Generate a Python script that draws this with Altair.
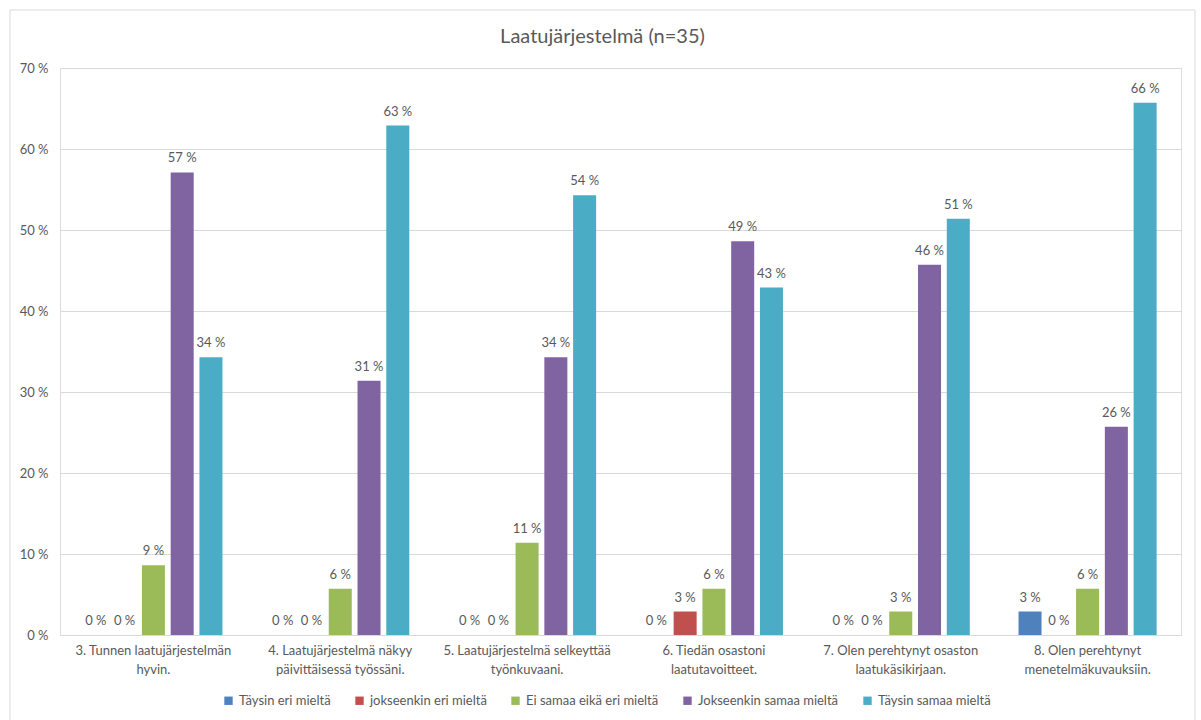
import altair as alt
import pandas as pd

categories = [
    "3. Tunnen laatujärjestelmän|hyvin.",
    "4. Laatujärjestelmä näkyy|päivittäisessä työssäni.",
    "5. Laatujärjestelmä selkeyttää|työnkuvaani.",
    "6. Tiedän osastoni|laatutavoitteet.",
    "7. Olen perehtynyt osaston|laatukäsikirjaan.",
    "8. Olen perehtynyt|menetelmäkuvauksiin.",
]
series = [
    "Täysin eri mieltä",
    "jokseenkin eri mieltä",
    "Ei samaa eikä eri mieltä",
    "Jokseenkin samaa mieltä",
    "Täysin samaa mieltä",
]
colors = ["#4F81BD", "#C0504D", "#9BBB59", "#8064A2", "#4BACC6"]

taysin_eri = [0.0, 0.0, 0.0, 0.0, 0.0, 2.9]
jokseenkin_eri = [0.0, 0.0, 0.0, 2.9, 0.0, 0.0]
ei_samaa_eika_eri = [8.6, 5.7, 11.4, 5.7, 2.9, 5.7]
jokseenkin_samaa = [57.1, 31.4, 34.3, 48.6, 45.7, 25.7]
taysin_samaa = [34.3, 62.9, 54.3, 42.9, 51.4, 65.7]

values = [taysin_eri, jokseenkin_eri, ei_samaa_eika_eri, jokseenkin_samaa, taysin_samaa]

rows = []
for s, vals in zip(series, values):
    for c, v in zip(categories, vals):
        rows.append({"category": c, "series": s, "value": v, "label": f"{round(v)} %"})
df = pd.DataFrame(rows)

FONT = "Lato"
GREY = "#595959"

base = alt.Chart(df).encode(
    x=alt.X(
        "category:N",
        sort=categories,
        scale=alt.Scale(paddingInner=0.23, paddingOuter=0.115),
        axis=alt.Axis(
            title=None,
            labelAngle=0,
            labelExpr="split(datum.label, '|')",
            labelFontSize=13,
            labelColor=GREY,
            labelFont=FONT,
            labelPadding=9,
            labelLineHeight=19,
            ticks=False,
            domainColor="#D9D9D9",
            domainWidth=1,
            labelLimit=300,
        ),
    ),
    xOffset=alt.XOffset(
        "series:N", sort=series, scale=alt.Scale(paddingInner=0.2, paddingOuter=0.1)
    ),
    y=alt.Y(
        "value:Q",
        scale=alt.Scale(domain=[0, 70], nice=False),
        axis=alt.Axis(
            title=None,
            values=[0, 10, 20, 30, 40, 50, 60, 70],
            labelExpr="datum.value + ' %'",
            labelFontSize=13,
            labelColor=GREY,
            labelFont=FONT,
            labelPadding=12,
            ticks=False,
            domain=False,
            gridColor="#D9D9D9",
            gridWidth=1,
        ),
    ),
)

bars = base.mark_bar().encode(
    color=alt.Color(
        "series:N",
        sort=series,
        scale=alt.Scale(domain=series, range=colors),
        legend=alt.Legend(
            title=None,
            orient="none",
            direction="horizontal",
            legendX=162,
            legendY=626,
            symbolType="square",
            symbolSize=70,
            symbolStrokeWidth=0,
            labelFontSize=13,
            labelColor=GREY,
            labelFont=FONT,
            columnPadding=22,
            labelOffset=4,
            labelLimit=300,
        ),
    )
)

texts = base.mark_text(
    baseline="bottom", dy=-7, fontSize=13, color=GREY, font=FONT
).encode(text="label:N")

border = alt.Chart(pd.DataFrame({"a": [0]})).mark_rect(
    fill=None, stroke="#D9D9D9", strokeWidth=1
).encode(
    x=alt.value(-50), x2=alt.value(1135), y=alt.value(-58), y2=alt.value(700)
)

chart = (
    alt.layer(border, bars, texts)
    .properties(
        width=1121,
        height=567,
        title=alt.TitleParams(
            "Laatujärjestelmä (n=35)",
            fontSize=20,
            font=FONT,
            fontWeight="normal",
            color=GREY,
            anchor="middle",
            frame="bounds",
            offset=-37,
        ),
        autosize=alt.AutoSizeParams(type="none"),
        padding={"left": 60, "top": 68, "right": 20, "bottom": 85},
    )
    .configure_view(stroke=None)
    .configure(background="white")
)

chart.save("out.html", embed_options={"renderer": "svg", "actions": False})
